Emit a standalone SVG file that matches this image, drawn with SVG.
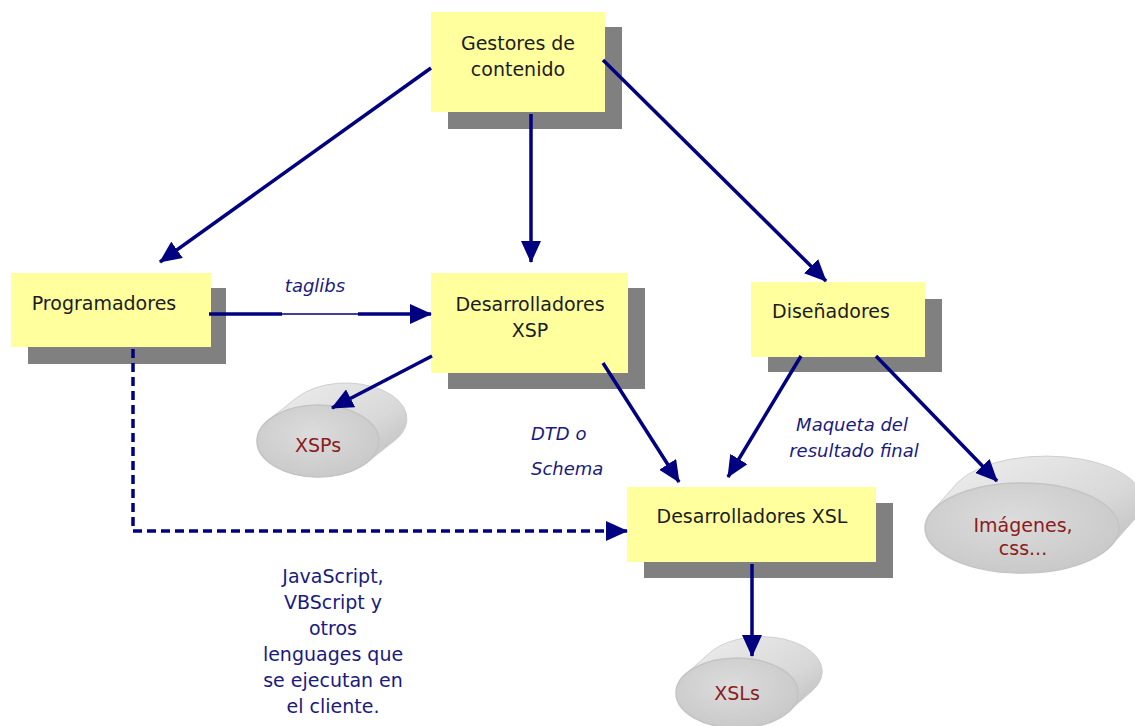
<svg xmlns="http://www.w3.org/2000/svg" width="1135" height="726" viewBox="0 0 1135 726">
<defs>
<style>
.box{fill:#ffff9e}
.sh{fill:#808080}
.bt{font-family:"DejaVu Sans",sans-serif;font-size:19px;fill:#1c1c1c;text-anchor:middle}
.lb{font-family:"DejaVu Sans",sans-serif;font-size:18px;font-style:italic;fill:#1a1a80}
.nt{font-family:"DejaVu Sans",sans-serif;font-size:19px;fill:#1a1a80;text-anchor:middle}
.ct{font-family:"DejaVu Sans",sans-serif;font-size:19px;fill:#8b1c1c;text-anchor:middle}
.ln{stroke:#000080;stroke-width:3.5;fill:none}
.side{fill:url(#gs);stroke:#cfcfcf;stroke-width:1}
.front{fill:url(#gf);stroke:#c4c4c4;stroke-width:1.5}
</style>
<marker id="ah" viewBox="0 0 22 20" refX="21" refY="10" markerWidth="22" markerHeight="20" markerUnits="userSpaceOnUse" orient="auto">
<path d="M0,0 L22,10 L0,20 Z" fill="#000080"/>
</marker>
<linearGradient id="gs" x1="0" y1="0" x2="1" y2="1">
<stop offset="0" stop-color="#f0f0f0"/>
<stop offset="0.6" stop-color="#d8d8d8"/>
<stop offset="1" stop-color="#b4b4b4"/>
</linearGradient>
<radialGradient id="gf" cx="0.45" cy="0.4" r="0.65">
<stop offset="0" stop-color="#dcdcdc"/>
<stop offset="1" stop-color="#c8c8c8"/>
</radialGradient>
</defs>

<g id="gestores">
<rect class="sh" x="448" y="27" width="174" height="102"/>
<rect class="box" x="431" y="12" width="174" height="100"/>
<text class="bt" x="518" y="50">Gestores de</text>
<text class="bt" x="518" y="76">contenido</text>
</g>

<g id="programadores">
<rect class="sh" x="28" y="288" width="198" height="76"/>
<rect class="box" x="11" y="273" width="200" height="74"/>
<text class="bt" x="104" y="310">Programadores</text>
</g>

<g id="xsp">
<rect class="sh" x="448" y="288" width="197" height="101"/>
<rect class="box" x="431" y="273" width="197" height="100"/>
<text class="bt" x="530" y="311">Desarrolladores</text>
<text class="bt" x="530" y="337">XSP</text>
</g>

<g id="disenadores">
<rect class="sh" x="768" y="299" width="174" height="73"/>
<rect class="box" x="751" y="282" width="174" height="75"/>
<text class="bt" x="831" y="318">Diseñadores</text>
</g>

<g id="xsl">
<rect class="sh" x="644" y="503" width="249" height="75"/>
<rect class="box" x="627" y="487" width="249" height="75"/>
<text class="bt" x="752" y="523">Desarrolladores XSL</text>
</g>

<g id="xsps">
<path class="side" d="M269.2,419.4 L297.2,397.4 A61,36 0 0 1 394.8,440.6 L366.8,462.6 A61,36 0 0 1 269.2,419.4 Z"/>
<ellipse class="front" cx="318" cy="441" rx="61" ry="36"/>
<text class="ct" x="318" y="452">XSPs</text>
</g>

<g id="imagenes">
<path class="side" d="M932.4,510.8 L957.4,482.8 A97,45 0 0 1 1136.6,517.2 L1111.6,545.2 A97,45 0 0 1 932.4,510.8 Z"/>
<ellipse class="front" cx="1022" cy="528" rx="97" ry="45"/>
<text class="ct" x="1023" y="532">Imágenes,</text>
<text class="ct" x="1023" y="555">css...</text>
</g>

<g id="xsls">
<path class="side" d="M685.9,673.9 L710.9,651.9 A61,35 0 0 1 813.1,690.1 L788.1,712.1 A61,35 0 0 1 685.9,673.9 Z"/>
<ellipse class="front" cx="737" cy="693" rx="61" ry="35"/>
<text class="ct" x="737" y="700">XSLs</text>
</g>

<g id="connectors">
<line class="ln" x1="431" y1="68" x2="160" y2="262" marker-end="url(#ah)"/>
<line class="ln" x1="531" y1="114" x2="531" y2="262" marker-end="url(#ah)"/>
<line class="ln" x1="603" y1="60" x2="826" y2="281" marker-end="url(#ah)"/>
<line class="ln" x1="209" y1="314" x2="282" y2="314"/>
<line x1="282" y1="314" x2="358" y2="314" stroke="#000080" stroke-width="1.5"/>
<line class="ln" x1="358" y1="314" x2="431" y2="314" marker-end="url(#ah)"/>
<line class="ln" x1="432" y1="356" x2="332" y2="408" marker-end="url(#ah)"/>
<line class="ln" x1="603" y1="363" x2="679" y2="482" marker-end="url(#ah)"/>
<line class="ln" x1="801" y1="356" x2="728" y2="477" marker-end="url(#ah)"/>
<line class="ln" x1="876" y1="356" x2="997" y2="481" marker-end="url(#ah)"/>
<polyline class="ln" points="133,349 133,531 627,531" stroke-dasharray="9,5" marker-end="url(#ah)"/>
<line class="ln" x1="752" y1="564" x2="752" y2="656" marker-end="url(#ah)"/>
</g>

<g id="labels">
<text class="lb" x="315" y="292" text-anchor="middle">taglibs</text>
<text class="lb" x="531" y="440">DTD o</text>
<text class="lb" x="531" y="475">Schema</text>
<text class="lb" x="852" y="431" text-anchor="middle">Maqueta del</text>
<text class="lb" x="854" y="457" text-anchor="middle">resultado final</text>
<text class="nt" x="333" y="583">JavaScript,</text>
<text class="nt" x="333" y="609">VBScript y</text>
<text class="nt" x="333" y="635">otros</text>
<text class="nt" x="333" y="661">lenguages que</text>
<text class="nt" x="333" y="687">se ejecutan en</text>
<text class="nt" x="333" y="713">el cliente.</text>
</g>
</svg>
